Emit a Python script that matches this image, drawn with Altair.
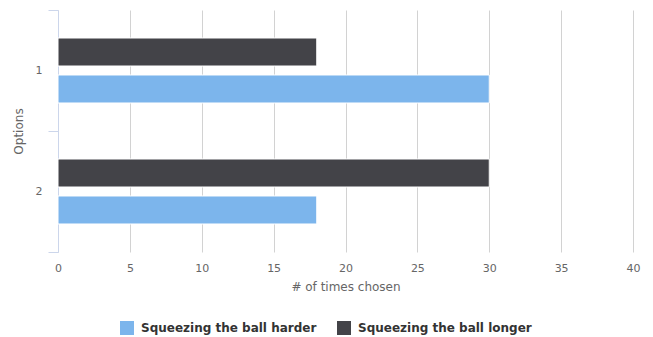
import altair as alt
import pandas as pd

# Survey results: how many times each option was chosen, per series
options = ["1", "2"]
series_names = ["Squeezing the ball harder", "Squeezing the ball longer"]
harder_counts = [30, 18]
longer_counts = [18, 30]

rows = []
for i, opt in enumerate(options):
    rows.append({"option": opt, "series": series_names[1], "count": longer_counts[i]})
    rows.append({"option": opt, "series": series_names[0], "count": harder_counts[i]})
df = pd.DataFrame(rows)

FONT = "DejaVu Sans"

bars = alt.Chart(df).mark_bar(stroke="white", strokeWidth=1).encode(
    x=alt.X(
        "count:Q",
        title="# of times chosen",
        scale=alt.Scale(domain=[0, 40], nice=False),
        axis=alt.Axis(
            values=[0, 5, 10, 15, 20, 25, 30, 35, 40],
            domain=False,
            ticks=False,
            grid=True,
            gridColor="#d2d2d2",
            labelColor="#666666",
            labelFontSize=11,
            labelPadding=10,
            labelFlush=False,
            titleColor="#666666",
            titleFontSize=12,
            titleFontWeight="normal",
            titlePadding=8,
        ),
    ),
    y=alt.Y(
        "option:N",
        title="Options",
        sort=options,
        scale=alt.Scale(paddingInner=0, paddingOuter=0),
        axis=alt.Axis(
            tickBand="extent",
            domainColor="#ccd6eb",
            tickColor="#ccd6eb",
            tickSize=10,
            labelColor="#666666",
            labelFontSize=11,
            labelPadding=6,
            titleColor="#666666",
            titleFontSize=12,
            titleFontWeight="normal",
            titlePadding=10,
            grid=False,
        ),
    ),
    yOffset=alt.YOffset(
        "series:N",
        sort=[series_names[1], series_names[0]],
        scale=alt.Scale(paddingInner=0.243, paddingOuter=0.757),
    ),
    color=alt.Color(
        "series:N",
        scale=alt.Scale(domain=series_names, range=["#7cb5ec", "#434348"]),
        legend=alt.Legend(
            title=None,
            orient="none",
            direction="horizontal",
            legendX=62,
            legendY=311,
            symbolType="square",
            symbolSize=196,
            symbolStrokeWidth=0,
            labelFontSize=12,
            labelFontWeight="bold",
            labelColor="#333333",
            labelLimit=0,
            columnPadding=20,
            labelOffset=7,
        ),
    ),
)

chart = bars.properties(
    width=575,
    height=242,
    autosize=alt.AutoSizeParams(type="none"),
    padding={"left": 58, "top": 10, "right": 20, "bottom": 85},
).configure(font=FONT).configure_view(stroke=None)

chart.save("out.html", embed_options={"renderer": "svg", "actions": False})
